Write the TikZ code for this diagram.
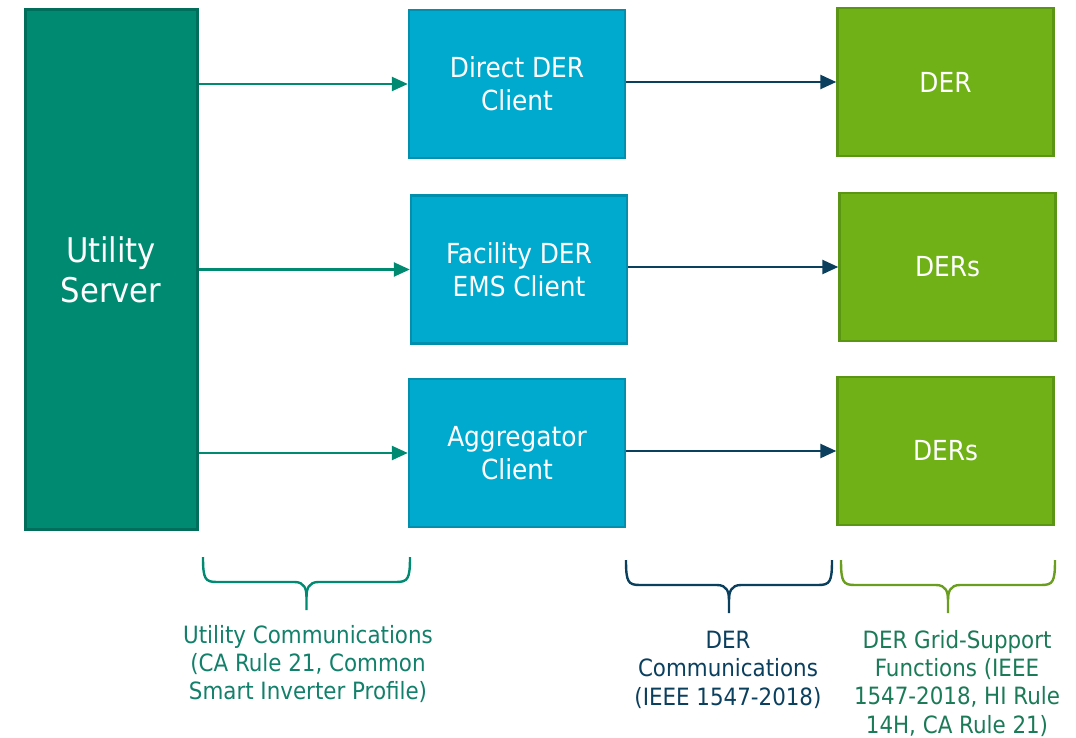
\documentclass[tikz,border=0pt]{standalone}
\usepackage{fontspec}
\setmainfont{DejaVu Sans Condensed}
\usetikzlibrary{arrows.meta}

\definecolor{srvgreen}{HTML}{008A72}
\definecolor{srvline}{HTML}{006E5B}
\definecolor{clientblue}{HTML}{00AACF}
\definecolor{clientline}{HTML}{0090AE}
\definecolor{dergreen}{HTML}{6FB117}
\definecolor{derline}{HTML}{5A9514}
\definecolor{navy}{HTML}{0B3F5E}
\definecolor{labteal}{HTML}{12806A}
\definecolor{labgreen}{HTML}{1B7A58}
\definecolor{bracegreen}{HTML}{6A9E1E}

% bracket under a column: #1 left x, #2 right x, #3 top y, #4 colour
\newcommand{\bracket}[4]{%
  \draw[#4,line width=1.2pt]
    (#1,#3) .. controls (#1,#3+22) and (#1+2,#3+25) .. (#1+14,#3+25)
    -- ({(#1+#2)/2-12},#3+25)
    .. controls ({(#1+#2)/2-2},#3+25) and ({(#1+#2)/2},#3+32) .. ({(#1+#2)/2},#3+40)
    -- ({(#1+#2)/2},#3+53);
  \draw[#4,line width=1.2pt]
    (#2,#3) .. controls (#2,#3+22) and (#2-2,#3+25) .. (#2-14,#3+25)
    -- ({(#1+#2)/2+12},#3+25)
    .. controls ({(#1+#2)/2+2},#3+25) and ({(#1+#2)/2},#3+32) .. ({(#1+#2)/2},#3+40);
}

\begin{document}
\begin{tikzpicture}[x=0.5pt,y=-0.5pt,line width=1pt,
                    >={Triangle[length=8pt,width=7pt]}]
  \tikzstyle{server}=[rectangle,draw=srvline,fill=srvgreen,text=white,line width=1.5pt,
                      minimum width=86pt,minimum height=260pt,font=\fontsize{17}{20}\selectfont,
                      align=center,inner sep=0pt]
  \tikzstyle{client}=[rectangle,draw=clientline,fill=clientblue,text=white,line width=1.2pt,
                      minimum width=108pt,minimum height=74pt,font=\fontsize{13.8}{16.5}\selectfont,
                      align=center,inner sep=0pt]
  \tikzstyle{der}=[rectangle,draw=derline,fill=dergreen,text=white,line width=1.2pt,
                   minimum width=108pt,minimum height=74pt,font=\fontsize{13.8}{16.5}\selectfont,
                   align=center,inner sep=0pt]
  \tikzstyle{note}=[align=center,font=\fontsize{11.9}{14.2}\selectfont,inner sep=0pt,anchor=north]

  \useasboundingbox (0,0) rectangle (1076,738);

  \node[server] (srv) at (111,269.5) {Utility\\Server};

  \node[client] (c1) at (517,84)    {Direct DER\\Client};
  \node[client] (c2) at (519,269.5) {Facility DER\\EMS Client};
  \node[client] (c3) at (517,453)   {Aggregator\\Client};

  \node[der] (d1) at (945.5,82)  {DER};
  \node[der] (d2) at (947.5,267) {DERs};
  \node[der] (d3) at (945.5,451) {DERs};

  \path[->,srvgreen,line width=1.2pt]
    (srv.east |- c1) edge (c1.west)
    (srv.east |- c2) edge (c2.west)
    (srv.east |- c3) edge (c3.west);
  \path[->,navy,line width=1.2pt]
    (c1.east |- d1) edge (d1.west)
    (c2.east |- d2) edge (d2.west)
    (c3.east |- d3) edge (d3.west);

  \bracket{203}{410}{557}{srvgreen}
  \bracket{626}{832}{560}{navy}
  \bracket{841}{1055}{560}{bracegreen}

  \node[note,text=labteal]  (l1) at (308,624)
    {Utility Communications\\(CA Rule 21, Common\\Smart Inverter Profile)};
  \node[note,text=navy]     (l2) at (728,630)
    {DER\\Communications\\(IEEE 1547-2018)};
  \node[note,text=labgreen] (l3) at (957,629)
    {DER Grid-Support\\Functions (IEEE\\1547-2018, HI Rule\\14H, CA Rule 21)};
\end{tikzpicture}
\end{document}
